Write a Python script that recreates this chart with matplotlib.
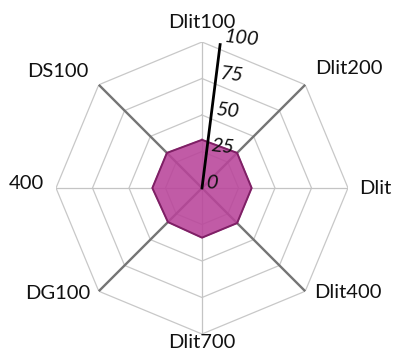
import numpy as np
import matplotlib
matplotlib.use("Agg")
import matplotlib.pyplot as plt

categories = ["Dlit100", "Dlit200", "Dlit", "Dlit400", "Dlit700", "DG100", "400", "DS100"]
values = [33, 34, 34, 34, 34, 33, 34, 34]
ring_levels = [25, 50, 75, 100]
tick_labels = ["0", "25", "50", "75", "100"]
tick_values = [0, 25, 50, 75, 100]

plt.rcParams['font.family'] = ['Lato', 'DejaVu Sans']

W, H = 395, 352
fig = plt.figure(figsize=(W / 100, H / 100), dpi=100)
cx, cy, R = 202, 188, 146
ax = fig.add_axes([(cx - R) / W, (H - cy - R) / H, 2 * R / W, 2 * R / H], projection='polar')
ax.set_theta_zero_location('N')
ax.set_theta_direction(-1)
ax.set_ylim(0, 100)
ax.set_axis_off()

n = len(categories)
angles = np.deg2rad(np.arange(n) * 360.0 / n)
closed = np.append(angles, angles[0])

# rings
for lv in ring_levels:
    ax.plot(closed, [lv] * (n + 1), color='#c8c8c8', lw=0.9, zorder=1)
# spokes
for i, a in enumerate(angles):
    if i % 2 == 1:
        ax.plot([a, a], [0, 100], color='#757575', lw=1.7, zorder=1)
    else:
        ax.plot([a, a], [0, 100], color='#c4c4c4', lw=0.9, zorder=1)

# data polygon
vals = np.append(values, values[0])
ax.fill(closed, vals, color='#b9449a', alpha=0.88, zorder=2)
ax.plot(closed, vals, color='#7e2065', lw=1.4, zorder=3)

# tilted radial axis
ax_ang = np.deg2rad(7.2)
ax.plot([ax_ang, ax_ang], [0, 100], color='black', lw=2.0, zorder=4)
for tv, tl in zip(tick_values, tick_labels):
    ax.annotate(tl, xy=(ax_ang, tv), xytext=(2.5, 3.5), textcoords='offset points',
                ha='left', va='center', fontsize=14.5, style='italic', rotation=-6,
                color='#111111', zorder=5)

# category labels: offsets in pixels (converted to points)
label_offsets = {
    "Dlit100": (0, 19, 'center'),
    "Dlit200": (10, 16, 'left'),
    "Dlit": (11, 0, 'left'),
    "Dlit400": (9, -1, 'left'),
    "Dlit700": (0, -8, 'center'),
    "DG100": (-8, -2, 'right'),
    "400": (-12, 5, 'right'),
    "DS100": (-10, 13, 'right'),
}
for a, c in zip(angles, categories):
    dx, dy, ha = label_offsets[c]
    ax.annotate(c, xy=(a, 100), xytext=(dx * 0.72, dy * 0.72), textcoords='offset points',
                ha=ha, va='center', fontsize=14.5, color='#111111', annotation_clip=False)

fig.savefig("out.png", dpi=100, facecolor='white')
